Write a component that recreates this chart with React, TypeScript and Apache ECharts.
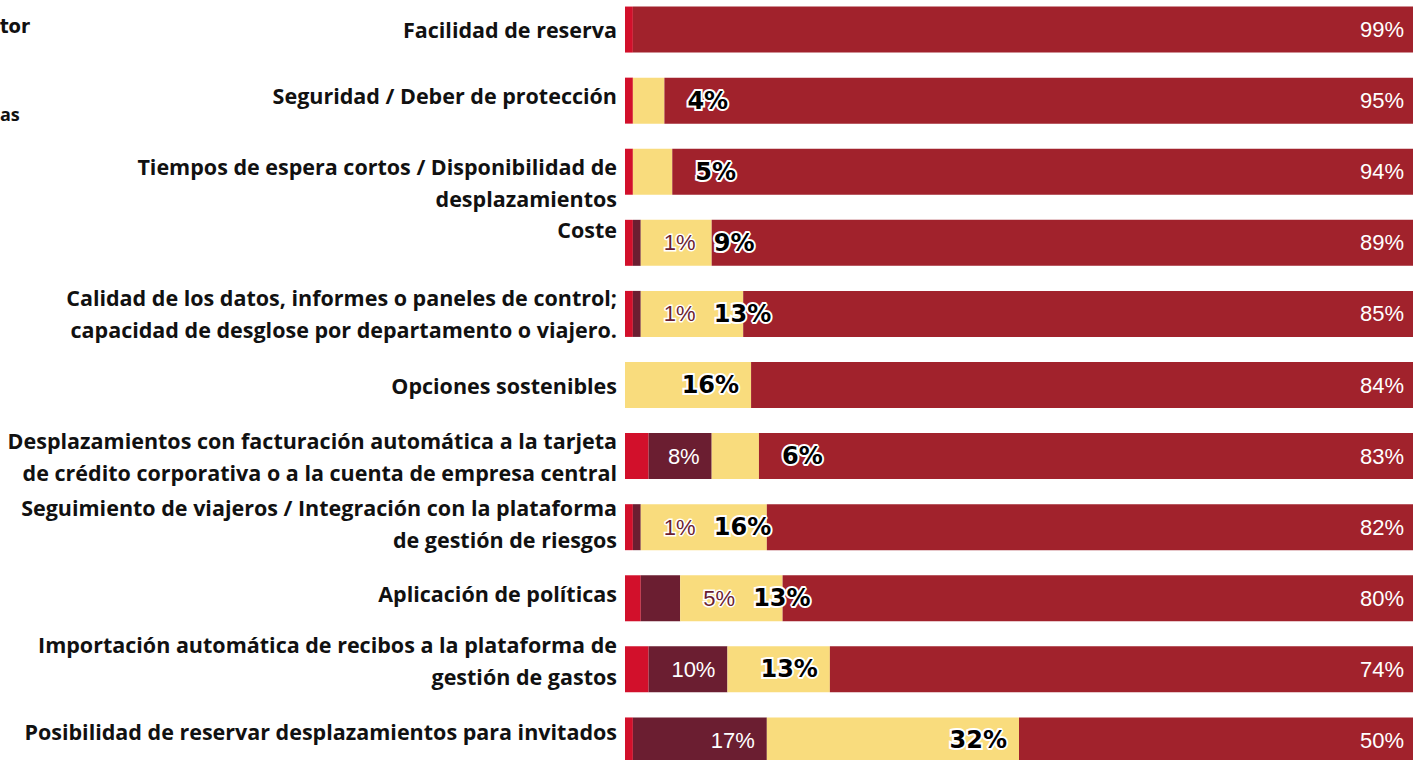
import React, { useEffect, useRef } from "react";
import * as echarts from "echarts";

const categories = [
  "Facilidad de reserva",
  "Seguridad / Deber de protección",
  "Tiempos de espera cortos / Disponibilidad de\ndesplazamientos",
  "Coste",
  "Calidad de los datos, informes o paneles de control;\ncapacidad de desglose por departamento o viajero.",
  "Opciones sostenibles",
  "Desplazamientos con facturación automática a la tarjeta\nde crédito corporativa o a la cuenta de empresa central",
  "Seguimiento de viajeros / Integración con la plataforma\nde gestión de riesgos",
  "Aplicación de políticas",
  "Importación automática de recibos a la plataforma de\ngestión de gastos",
  "Posibilidad de reservar desplazamientos para invitados",
];
const redValues = [1, 1, 1, 1, 1, 0, 3, 1, 2, 3, 1];
const maroonValues = [0, 0, 0, 1, 1, 0, 8, 1, 5, 10, 17];
const yellowValues = [0, 4, 5, 9, 13, 16, 6, 16, 13, 13, 32];
const darkRedValues = [99, 95, 94, 89, 85, 84, 83, 82, 80, 74, 50];

const RED = "#D2102B";
const MAROON = "#6B1E31";
const YELLOW = "#F9DC7D";
const DARKRED = "#A1222C";
const NUM_FONT = "'Liberation Sans', Arial, sans-serif";
const BOLD_NUM_FONT = "'DejaVu Sans', Verdana, sans-serif";
const CAT_FONT = "'Open Sans', 'Noto Sans', sans-serif";

export default function App() {
  const ref = useRef<HTMLDivElement>(null);
  useEffect(() => {
    if (!ref.current) return;
    const chart = echarts.init(ref.current, undefined, { renderer: "svg" });

    // vertical nudges of some category labels (style only): spacer line heights
    const spacerTop = [0, 0, 22, 0, 0, 0, 0, 0, 0, 0, 0];
    const spacerBottom = [0, 10, 0, 26, 0, 0, 0, 8, 10, 18, 18];

    const maroonOutside = maroonValues.map((v) => v > 0 && v <= 5);

    const maroonData = maroonValues.map((v, i) => {
      if (v === 0) return { value: v, label: { show: false } };
      if (maroonOutside[i]) {
        return {
          value: v,
          label: {
            show: true,
            position: "right",
            distance: 23,
            color: MAROON,
            textBorderColor: "#fff",
            textBorderWidth: 3,
          },
        };
      }
      return {
        value: v,
        label: { show: true, position: "insideRight", distance: 12, color: "#fff" },
      };
    });

    const yellowData = yellowValues.map((v, i) => {
      if (v === 0) return { value: v, label: { show: false } };
      let pos: any = { position: "insideRight", distance: 12 };
      if (maroonOutside[i]) pos = { position: "insideLeft", distance: 73 };
      else if (v < 10) pos = { position: "right", distance: 23 };
      return { value: v, label: { show: true, ...pos } };
    });

    const catStyle = {
      fontFamily: CAT_FONT,
      fontWeight: "bold",
      fontSize: 21.5,
      lineHeight: 32,
      color: "#111",
      align: "right",
    };

    const rich: any = { n: { ...catStyle } };
    [...spacerTop, ...spacerBottom].forEach((h) => {
      if (h > 0) rich["s" + h] = { fontSize: 1, lineHeight: h, color: "rgba(0,0,0,0)" };
    });

    const option: any = {
      animation: false,
      grid: { left: 625, right: 0, top: 0, bottom: 0, containLabel: false },
      xAxis: {
        type: "value",
        min: 0,
        max: 100,
        show: false,
      },
      yAxis: {
        type: "category",
        inverse: true,
        data: categories,
        axisLine: { show: false },
        axisTick: { show: false },
        axisLabel: {
          margin: 8,
          ...catStyle,
          formatter: (value: string, index: number) => {
            const lines = value.split("\n").map((l) => `{n|${l}}`);
            const t = spacerTop[index];
            const b = spacerBottom[index];
            if (t > 0) lines.unshift(`{s${t}| }`);
            if (b > 0) lines.push(`{s${b}| }`);
            return lines.join("\n");
          },
          rich,
        },
      },
      graphic: [
        {
          type: "text",
          left: 0,
          top: 22,
          style: {
            text: "tor",
            font: "bold 20px 'DejaVu Sans Condensed', 'Liberation Sans Narrow', sans-serif",
            fill: "#111",
          },
        },
        {
          type: "text",
          left: 0,
          top: 111,
          style: {
            text: "as",
            font: "bold 18px 'Open Sans', sans-serif",
            fill: "#111",
          },
        },
      ],
      series: [
        {
          name: "red",
          type: "bar",
          stack: "s",
          barWidth: 46,
          itemStyle: { color: RED },
          data: redValues,
          label: { show: false },
        },
        {
          name: "maroon",
          type: "bar",
          stack: "s",
          barWidth: 46,
          itemStyle: { color: MAROON },
          data: maroonData,
          label: {
            formatter: "{c}%",
            fontSize: 22,
            fontFamily: NUM_FONT,
          },
        },
        {
          name: "yellow",
          type: "bar",
          stack: "s",
          barWidth: 46,
          itemStyle: { color: YELLOW },
          data: yellowData,
          label: {
            formatter: "{c}%",
            fontSize: 24,
            fontWeight: "bold",
            fontFamily: BOLD_NUM_FONT,
            color: "#000",
            textBorderColor: "#fff",
            textBorderWidth: 4,
          },
        },
        {
          name: "darkred",
          type: "bar",
          stack: "s",
          barWidth: 46,
          itemStyle: { color: DARKRED },
          data: darkRedValues,
          label: {
            show: true,
            position: "insideRight",
            distance: 9,
            formatter: "{c}%",
            fontSize: 22,
            fontFamily: NUM_FONT,
            color: "#fff",
          },
        },
      ],
    };
    chart.setOption(option);
    return () => chart.dispose();
  }, []);
  return (
    <div
      ref={ref}
      style={{
        position: "fixed",
        left: 0,
        top: -6.5,
        width: 1413,
        height: 782,
        background: "#fff",
      }}
    />
  );
}
